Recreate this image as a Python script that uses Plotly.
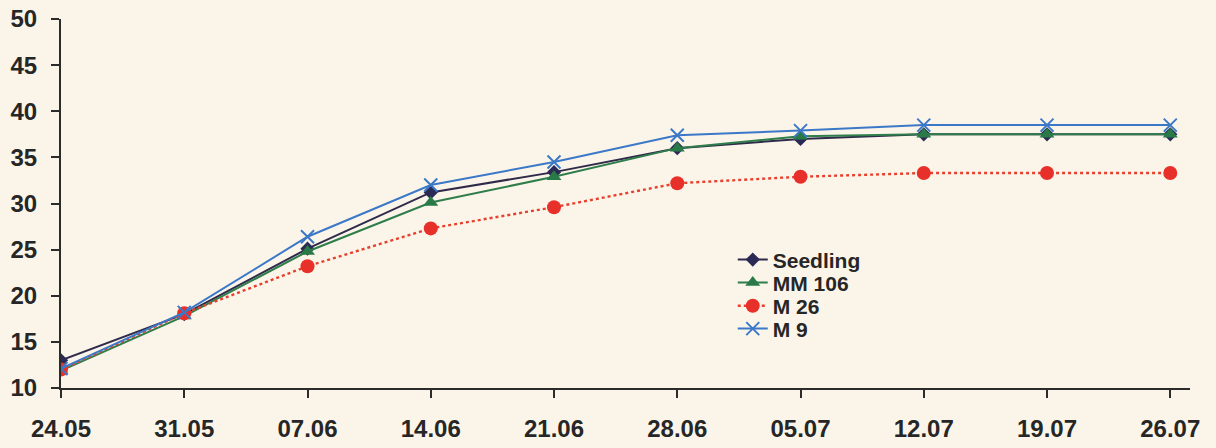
import plotly.graph_objects as go

dates = ["24.05", "31.05", "07.06", "14.06", "21.06", "28.06", "05.07", "12.07", "19.07", "26.07"]
seedling = [13.0, 18.0, 25.1, 31.2, 33.4, 36.0, 37.0, 37.5, 37.5, 37.5]
mm106 = [11.9, 17.8, 24.8, 30.1, 32.9, 36.0, 37.3, 37.5, 37.5, 37.5]
m26 = [12.0, 18.1, 23.2, 27.3, 29.6, 32.2, 32.9, 33.3, 33.3, 33.3]
m9 = [12.1, 18.2, 26.4, 32.0, 34.5, 37.4, 37.9, 38.5, 38.5, 38.5]

y_ticks = [10, 15, 20, 25, 30, 35, 40, 45, 50]

BG = "#FBF5E9"
AX = "#2b2b2b"
TXT = "#262626"
FONT = "Liberation Sans, Arial, sans-serif"

x = list(range(len(dates)))

series = [
    ("Seedling", seedling, dict(color="#2F2A4A", width=2),
     dict(symbol="diamond", size=11, color="#2A2A55"), "legend"),
    ("MM 106", mm106, dict(color="#2E7D4A", width=2),
     dict(symbol="triangle-up", size=13, color="#2A7A48"), "legend2"),
    ("M 26", m26, dict(color="#E8402E", width=2.4, dash="dot"),
     dict(symbol="circle", size=14, color="#E8302A"), "legend3"),
    ("M 9", m9, dict(color="#3B78C8", width=2),
     dict(symbol="x-thin", size=13, line=dict(color="#3B78C8", width=2)), "legend4"),
]

fig = go.Figure()
for name, vals, line, marker, lg in series:
    fig.add_trace(go.Scatter(
        x=x, y=vals, name=name, mode="lines+markers",
        line=line, marker=marker, legend=lg,
    ))

legend_font = dict(family=FONT, size=21, color=TXT, weight="bold")
legend_rows = [0.347, 0.285, 0.222, 0.160]
leg = {}
for i, key in enumerate(["legend", "legend2", "legend3", "legend4"]):
    leg[key] = dict(
        x=0.595, y=legend_rows[i], xanchor="left", yanchor="middle",
        bgcolor="rgba(0,0,0,0)", font=legend_font,
        borderwidth=0,
    )

tickfont = dict(family=FONT, size=24, color=TXT, weight="bold")

fig.update_layout(
    width=1216, height=448,
    margin=dict(l=61, r=26, t=19, b=60, autoexpand=False),
    paper_bgcolor=BG, plot_bgcolor=BG,
    font=dict(family=FONT, color=TXT, size=22, weight="bold"),
    showlegend=True,
    **leg,
    xaxis=dict(
        range=[0, 9.16], automargin=False,
        tickmode="array", tickvals=x, ticktext=dates,
        showline=True, linecolor=AX, linewidth=2,
        ticks="outside", ticklen=8, tickwidth=2, tickcolor=AX,
        showgrid=False, zeroline=False,
        tickfont=tickfont, ticklabelstandoff=10,
    ),
    yaxis=dict(
        range=[10, 50], automargin=False,
        tickmode="array", tickvals=y_ticks,
        showline=True, linecolor=AX, linewidth=2,
        ticks="outside", ticklen=8, tickwidth=2, tickcolor=AX,
        showgrid=False, zeroline=False,
        tickfont=tickfont, ticklabelstandoff=9,
    ),
)

fig.write_html(
    "out.html",
    config={"displayModeBar": False},
    post_script="document.body.style.margin='0';document.body.style.background='" + BG + "';",
)
